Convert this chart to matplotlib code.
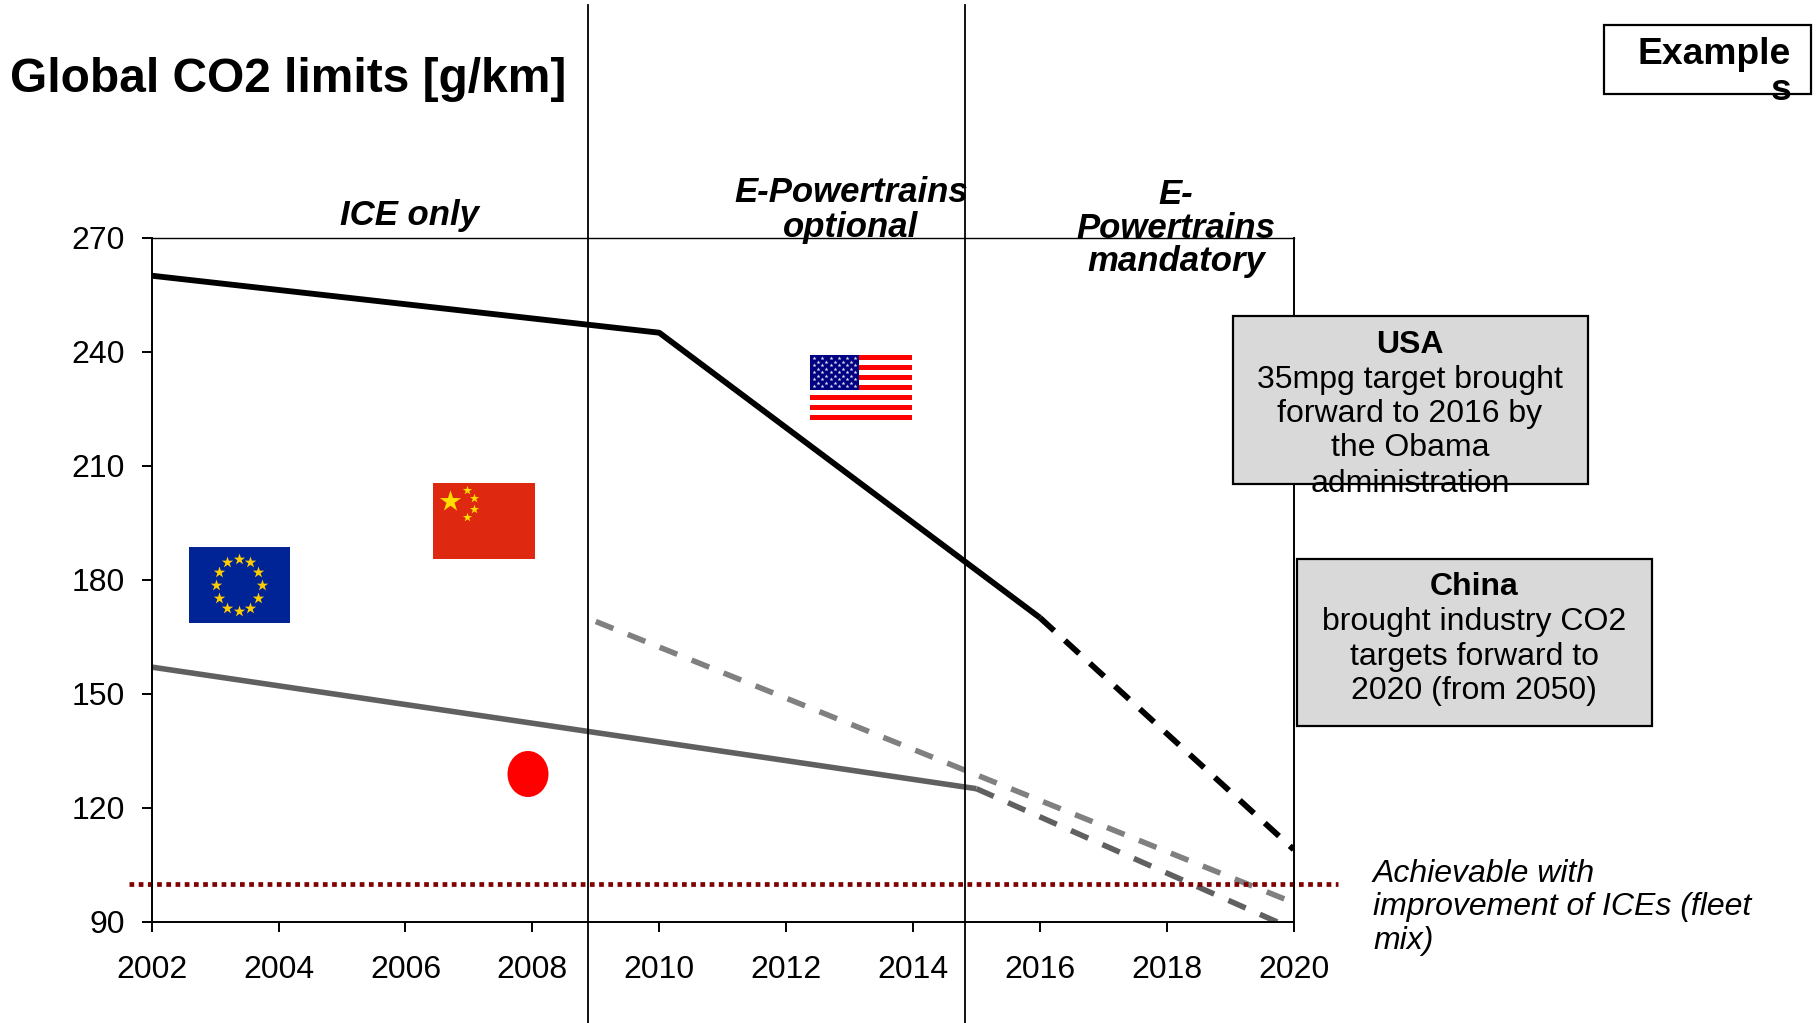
import numpy as np
import matplotlib
matplotlib.use('Agg')
import matplotlib.pyplot as plt
from matplotlib.patches import Rectangle, Ellipse

plt.rcParams['font.family'] = ['Liberation Sans', 'DejaVu Sans']

WIDTH, HEIGHT = 1818, 1023

YEARS = [2002, 2004, 2006, 2008, 2010, 2012, 2014, 2016, 2018, 2020]
Y_TICKS = [90, 120, 150, 180, 210, 240, 270]

USA_YEARS = [2002, 2010, 2016]
USA_LIMITS = [260, 245, 170]
USA_TARGET_YEARS = [2016, 2020]
USA_TARGET_LIMITS = [170, 109]

EU_YEARS = [2002, 2015]
EU_LIMITS = [157, 125]
EU_TARGET_YEARS = [2015, 2020]
EU_TARGET_LIMITS = [125, 88]

CHINA_TARGET_YEARS = [2009, 2020]
CHINA_TARGET_LIMITS = [169, 95]

ICE_YEARS = [2001.65, 2020.7]
ICE_LIMITS = [100, 100]

DARK = '#606060'
LIGHT = '#808080'
MAROON = '#7f0000'
BOX_GREY = '#d9d9d9'
FONT = 23


def text_lines(ax, x, ys, lines, **kwargs):
    # one call per line so the spacing stays the same for every block
    kwargs.setdefault('fontsize', FONT)
    for y, line in zip(ys, lines):
        ax.text(x, y, line, va='center', **kwargs)


def draw_chart(ax):
    ax.plot(USA_YEARS, USA_LIMITS, color='black', lw=4.2, solid_capstyle='butt')
    ax.plot(USA_TARGET_YEARS, USA_TARGET_LIMITS, color='black', lw=4.2,
            linestyle=(0, (3.3, 2.5)), dash_capstyle='butt')
    ax.plot(EU_YEARS, EU_LIMITS, color=DARK, lw=4, solid_capstyle='butt')
    ax.plot(EU_TARGET_YEARS, EU_TARGET_LIMITS, color=DARK, lw=4,
            linestyle=(0, (3.4, 2.8)), dash_capstyle='butt')
    ax.plot(CHINA_TARGET_YEARS, CHINA_TARGET_LIMITS, color=LIGHT, lw=4,
            linestyle=(0, (3.4, 2.8)), dash_capstyle='butt')
    ax.plot(ICE_YEARS, ICE_LIMITS, color=MAROON, lw=3.4,
            linestyle=(0, (1, 0.95)), dash_capstyle='butt', clip_on=False)

    ax.set_xlim(2002, 2020)
    ax.set_ylim(90, 270)
    ax.set_xticks(YEARS)
    ax.set_yticks(Y_TICKS)
    ax.tick_params(labelsize=FONT, length=7, width=1.4)
    ax.tick_params(axis='x', pad=16.7)
    ax.tick_params(axis='y', pad=12.5)
    for spine in ax.spines.values():
        spine.set_linewidth(1.4)
    ax.spines['top'].set_linewidth(1.0)


def draw_eu_flag(ov):
    ov.add_patch(Rectangle((189, 547), 101, 76, fc='#002395', ec='none'))
    angles = np.deg2rad(np.arange(0, 360, 30))
    ov.scatter(238.5 + 23 * np.cos(angles), 585 + 26 * np.sin(angles),
               marker='*', s=75, color='#ffcc00', linewidths=0, zorder=3)


def draw_china_flag(ov):
    ov.add_patch(Rectangle((433, 483), 102, 76, fc='#de2910', ec='none'))
    ov.scatter([450], [501], marker='*', s=260, color='#ffde00', linewidths=0, zorder=3)
    ov.scatter([467, 474, 474, 467], [490, 498, 509, 517], marker='*', s=48,
               color='#ffde00', linewidths=0, zorder=3)


def draw_us_flag(ov):
    for i in range(7):
        ov.add_patch(Rectangle((810, 355 + i * 10), 102, 5, fc='#ff0000', ec='none'))
    ov.add_patch(Rectangle((810, 355), 49, 35, fc='#000080', ec='none', zorder=2))
    xs, ys = [], []
    for row in range(9):
        cols = 6 if row % 2 == 0 else 5
        offset = 0 if row % 2 == 0 else 4
        for col in range(cols):
            xs.append(814.3 + offset + col * 8.1)
            ys.append(358.3 + row * 3.5)
    ov.scatter(xs, ys, marker='*', s=9, color='#dfe0f5', linewidths=0, zorder=3)


def draw_annotations(ov):
    ov.text(10, 79, 'Global CO2 limits [g/km]', fontsize=34.5, fontweight='bold', va='center')

    # phase dividers run past the plot area, top to bottom of the figure
    for x in (588, 965):
        ov.plot([x, x], [5, HEIGHT], color='black', lw=1.3, zorder=2)

    head = dict(ha='center', fontweight='bold', fontstyle='italic', fontsize=25)
    text_lines(ov, 409, [215], ['ICE only'], **head)
    text_lines(ov, 851, [192, 227], ['E-Powertrains', 'optional'], **head)
    text_lines(ov, 1176, [194, 228, 261], ['E-', 'Powertrains', 'mandatory'], **head)

    ov.add_patch(Rectangle((1233, 316), 355, 167.5, fc=BOX_GREY, ec='black', lw=1.6, zorder=4))
    text_lines(ov, 1410, [345], ['USA'], ha='center', fontweight='bold', zorder=5)
    text_lines(ov, 1410, [380, 414, 448, 484],
               ['35mpg target brought', 'forward to 2016 by', 'the Obama', 'administration'],
               ha='center', zorder=5)

    ov.add_patch(Rectangle((1297, 559), 355, 167, fc=BOX_GREY, ec='black', lw=1.6, zorder=4))
    text_lines(ov, 1474, [587], ['China'], ha='center', fontweight='bold', zorder=5)
    text_lines(ov, 1474, [622, 657, 691],
               ['brought industry CO2', 'targets forward to', '2020 (from 2050)'],
               ha='center', zorder=5)

    text_lines(ov, 1373, [874, 907, 941],
               ['Achievable with', 'improvement of ICEs (fleet', 'mix)'], fontstyle='italic')

    ov.add_patch(Rectangle((1604, 25), 207, 69, fc='white', ec='black', lw=1.6, zorder=4))
    text_lines(ov, 1791, [55, 91], ['Example', 's'], ha='right', fontweight='bold',
               fontsize=26.8, zorder=5)

    ov.add_patch(Ellipse((528, 774), 41, 46, fc='#ff0000', ec='none'))


def main():
    fig = plt.figure(figsize=(WIDTH / 100, HEIGHT / 100), dpi=100)

    ax = fig.add_axes([151.7 / WIDTH, 1 - 921.7 / HEIGHT, (1293.7 - 151.7) / WIDTH, (921.7 - 237.7) / HEIGHT])
    draw_chart(ax)

    # overlay in pixel coordinates for flags, dividers and call-outs
    ov = fig.add_axes([0, 0, 1, 1], facecolor='none')
    ov.set_xlim(0, WIDTH)
    ov.set_ylim(HEIGHT, 0)
    ov.axis('off')
    draw_eu_flag(ov)
    draw_china_flag(ov)
    draw_us_flag(ov)
    draw_annotations(ov)

    fig.savefig('out.png', dpi=100)


if __name__ == '__main__':
    main()
